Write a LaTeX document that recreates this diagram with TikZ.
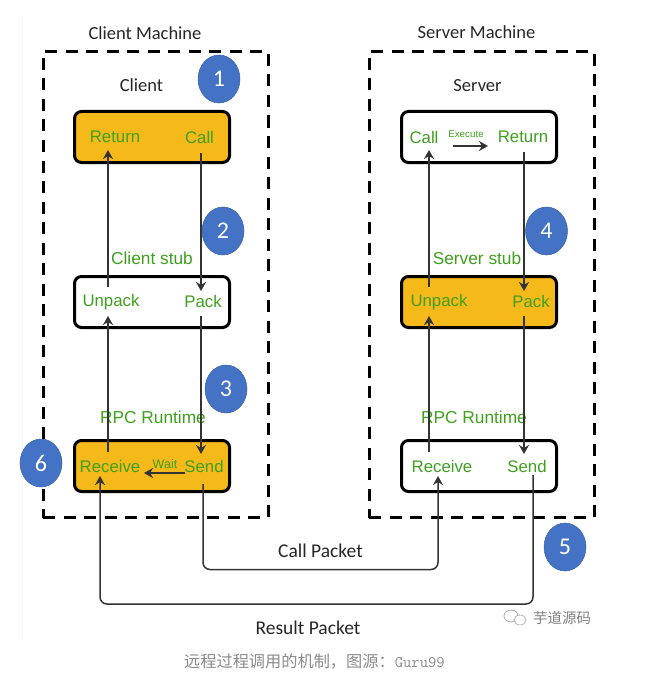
\documentclass[tikz,border=0pt]{standalone}
\usepackage{fontspec}
\setmainfont{Carlito}
\newfontfamily\grn{Liberation Sans}
\newfontfamily\cjk{Noto Sans CJK SC}
\usetikzlibrary{shapes.geometric,arrows.meta}
\definecolor{gold}{HTML}{F5B91A}
\definecolor{stepblue}{HTML}{4472C4}
\definecolor{lblgreen}{HTML}{3FA01E}
\definecolor{capgray}{HTML}{8A8A8A}
\tikzset{
  x=1pt,y=-1pt,
  machine/.style={draw=black,line width=3pt,dash pattern=on 12pt off 8.5pt},
  stage/.style={draw=black,line width=3pt,rounded corners=7pt,minimum width=155pt,minimum height=51pt,inner sep=0pt},
  stagefill/.style={stage,fill=gold},
  lbl/.style={text=lblgreen,font=\grn\fontsize{16.8}{18}\selectfont,inner sep=0pt},
  stub/.style={lbl,font=\grn\fontsize{17.3}{18}\selectfont},
  small/.style={text=lblgreen,font=\grn\fontsize{9.8}{11}\selectfont,inner sep=0pt},
  waitlbl/.style={small,font=\grn\fontsize{12.5}{13}\selectfont},
  head/.style={text=black!85,font=\fontsize{18.5}{20}\selectfont,inner sep=0pt},
  packet/.style={head,font=\fontsize{19.5}{21}\selectfont},
  badge/.style={ellipse,fill=stepblue,draw=stepblue!85!black,line width=.5pt,minimum width=42pt,minimum height=48pt,inner sep=0pt,text=white,font=\fontsize{24}{26}\selectfont},
  conn/.style={draw=black!80,line width=1.5pt,-{Stealth[length=9pt,width=10pt]}},
  wire/.style={conn,rounded corners=7pt},
}
\begin{document}
\begin{tikzpicture}
\useasboundingbox (0,0) rectangle (657,674);
\draw[black!4,line width=1pt] (22,15) -- (22,642);
% machines
\node[machine,minimum width=225pt,minimum height=466pt,inner sep=0pt] (cm) at (155.5,284.5) {};
\node[machine,minimum width=225pt,minimum height=466pt,inner sep=0pt] (sm) at (481.5,284.5) {};
\node[head] (cmt) at (145,33) {Client Machine};
\node[head] (smt) at (476.5,32) {Server Machine};
\node[head] (ct) at (141.5,85.5) {Client};
\node[head] (st) at (477.5,85.5) {Server};
% stage boxes
\node[stagefill] (c1) at (152,137) {};
\node[stage] (c2) at (152,302) {};
\node[stagefill] (c3) at (152,466) {};
\node[stage] (s1) at (479,137) {};
\node[stagefill] (s2) at (479,302) {};
\node[stage] (s3) at (479,466) {};
% green labels
\node[lbl] (cRet) at (115,137) {Return};
\node[lbl] (cCall) at (199.5,137) {Call};
\node[lbl] (cUnp) at (111,302.5) {Unpack};
\node[lbl] (cPack) at (203,301) {Pack};
\node[lbl] (cRecv) at (110,466) {Receive};
\node[lbl] (cSend) at (204,466) {Send};
\node[waitlbl] (wait) at (165,464.5) {Wait};
\node[stub] (cstub) at (152,258.5) {Client stub};
\node[stub] (crt) at (153,417) {RPC Runtime};
\node[lbl] (sCall) at (424,137) {Call};
\node[lbl] (sRet) at (523,137) {Return};
\node[small] (exec) at (466,134.5) {Execute};
\node[lbl] (sUnp) at (439,302.5) {Unpack};
\node[lbl] (sPack) at (531,301) {Pack};
\node[lbl] (sRecv) at (442,466) {Receive};
\node[lbl] (sSend) at (527,466) {Send};
\node[stub] (sstub) at (477,258.5) {Server stub};
\node[stub] (srt) at (474,417) {RPC Runtime};
% ports
\coordinate (pRetIn) at (108,150);
\coordinate (pCallOut) at (201,153);
\coordinate (pUnpOut) at (108,287);
\coordinate (pUnpIn) at (108,316);
\coordinate (pPackIn) at (201,291);
\coordinate (pPackOut) at (201,316);
\coordinate (pRecvOut) at (108,452);
\coordinate (pSendIn) at (201,454);
\coordinate (pWaitA) at (185,473);
\coordinate (pWaitB) at (144,473);
\coordinate (pSendOut) at (203,484);
\coordinate (pRecvIn) at (100,476);
\coordinate (qCallIn) at (429,150);
\coordinate (qRetOut) at (524,152);
\coordinate (qUnpOut) at (429,287);
\coordinate (qUnpIn) at (429,316);
\coordinate (qPackIn) at (524,291);
\coordinate (qPackOut) at (524,316);
\coordinate (qRecvOut) at (429,452);
\coordinate (qSendIn) at (524,454);
\coordinate (qExA) at (453,146);
\coordinate (qExB) at (488,146);
\coordinate (qSendOut) at (533,475);
\coordinate (qRecvIn) at (438,476);
% connectors
\draw[conn] (pUnpOut) -- (pRetIn);
\draw[conn] (pCallOut) -- (pPackIn);
\draw[conn] (pRecvOut) -- (pUnpIn);
\draw[conn] (pPackOut) -- (pSendIn);
\draw[conn] (pWaitA) -- (pWaitB);
\draw[conn] (qUnpOut) -- (qCallIn);
\draw[conn] (qRetOut) -- (qPackIn);
\draw[conn] (qRecvOut) -- (qUnpIn);
\draw[conn] (qPackOut) -- (qSendIn);
\draw[conn] (qExA) -- (qExB);
\draw[wire] (pSendOut) -- (203,569.5) -- (438,569.5) -- (qRecvIn);
\draw[wire] (qSendOut) -- (533,604) -- (100,604) -- (pRecvIn);
\node[packet] (cpk) at (320.5,551) {Call Packet};
\node[packet] (rpk) at (308,628) {Result Packet};
% badges
\node[badge] (b1) at (219,79) {1};
\node[badge] (b2) at (223,231) {2};
\node[badge] (b3) at (226,389) {3};
\node[badge] (b4) at (546.5,231) {4};
\node[badge] (b5) at (565,547) {5};
\node[badge] (b6) at (41,463) {6};
% watermark
\draw[black!30,line width=.8pt,fill=white] (511,616) ellipse (7pt and 6pt);
\draw[black!30,line width=.8pt,fill=white] (520,620) ellipse (6pt and 5pt);
\node[text=black!50,font=\cjk\fontsize{14.5}{16}\selectfont,inner sep=0pt] (wm) at (562,618) {芋道源码};
% caption
\node[text=capgray,inner sep=0pt] (cap) at (314.5,661.5) {\cjk\fontsize{16.2}{18}\selectfont 远程过程调用的机制，图源：\ttfamily\fontsize{16.2}{18}\selectfont Guru99};
\end{tikzpicture}
\end{document}
